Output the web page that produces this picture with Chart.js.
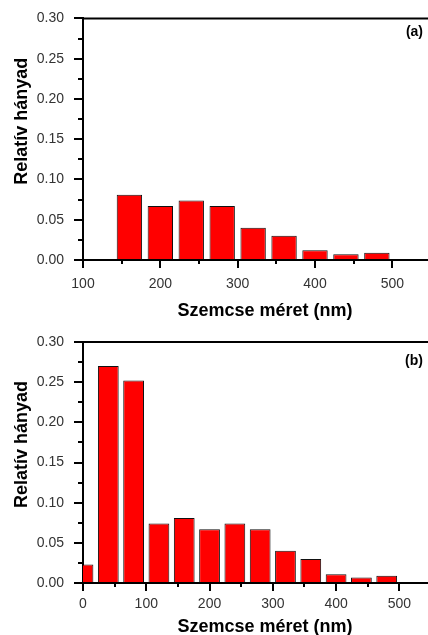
<!DOCTYPE html>
<html>
<head>
<meta charset="utf-8">
<title>Szemcseméret-eloszlás</title>
<script src="https://cdn.jsdelivr.net/npm/chart.js@4.4.0/dist/chart.umd.min.js"></script>
<style>
    html, body { margin: 0; padding: 0; background: #fff; overflow: hidden; }
    body { width: 428px; height: 635px; position: relative; }
    canvas { position: absolute; left: 0; }
    #canvas-a { top: 0; }
    #canvas-b { top: 320px; }
</style>
</head>
<body>
<canvas id="canvas-a" width="432" height="320"></canvas>
<canvas id="canvas-b" width="432" height="315"></canvas>
<script>
// bin centres (nm) and relative share for sample (a)
const sizesA = [160, 200, 240, 280, 320, 360, 400, 440, 480];
const shareA = [0.081, 0.067, 0.074, 0.067, 0.040, 0.030, 0.012, 0.007, 0.009];

// sample (b) has the extra small-grain fraction
const sizesB = [0, 40, 80, 120, 160, 200, 240, 280, 320, 360, 400, 440, 480];
const shareB = [0.023, 0.270, 0.252, 0.074, 0.081, 0.067, 0.074, 0.067, 0.040, 0.030, 0.011, 0.007, 0.009];

const yTicks = [0, 0.05, 0.10, 0.15, 0.20, 0.25, 0.30];
const xTicksA = [100, 200, 300, 400, 500];
const xTicksB = [0, 100, 200, 300, 400, 500];

const FONT = '"Liberation Sans", Arial, sans-serif';

// frame top line, minor ticks, axis titles and the (a)/(b) tag
const panelDecor = {
    id: 'panelDecor',
    afterDraw(chart, args, opts) {
        const ctx = chart.ctx;
        const a = chart.chartArea;
        const xs = chart.scales.x;
        const ys = chart.scales.y;
        ctx.save();
        ctx.strokeStyle = '#000';
        ctx.lineWidth = 2;

        ctx.beginPath();
        ctx.moveTo(a.left - 1, a.top);
        ctx.lineTo(a.right, a.top);
        ctx.stroke();

        // minor ticks halfway between the labelled ones
        ctx.beginPath();
        for (let v = 0.025; v < 0.3; v += 0.05) {
            const y = Math.round(ys.getPixelForValue(v));
            ctx.moveTo(a.left - 5, y);
            ctx.lineTo(a.left, y);
        }
        for (let v = xs.min + 50; v < xs.max; v += 100) {
            const x = Math.round(xs.getPixelForValue(v));
            ctx.moveTo(x, a.bottom);
            ctx.lineTo(x, a.bottom + 4);
        }
        ctx.stroke();

        ctx.fillStyle = '#000';
        ctx.font = 'bold 18px ' + FONT;
        ctx.textAlign = 'center';
        ctx.textBaseline = 'alphabetic';
        ctx.fillText('Szemcse méret (nm)', 265, opts.xTitleY);

        ctx.save();
        ctx.translate(27, (a.top + a.bottom) / 2 - 18);
        ctx.rotate(-Math.PI / 2);
        ctx.fillText('Relatív hányad', 0, 0);
        ctx.restore();

        ctx.font = 'bold 14px ' + FONT;
        ctx.textAlign = 'right';
        ctx.fillText(opts.tag, 423, a.top + opts.tagOffset);
        ctx.restore();
    }
};

function createHistogram(canvasId, sizes, shares, xTicks, xMin, axisHeight, tickPad, decor) {
    return new Chart(document.getElementById(canvasId).getContext('2d'), {
        type: 'bar',
        data: {
            datasets: [{
                data: sizes.map((s, i) => ({ x: s, y: shares[i] })),
                backgroundColor: '#ff0000',
                borderColor: '#111',
                borderWidth: 1,
                barPercentage: 0.82,
                categoryPercentage: 1
            }]
        },
        options: {
            responsive: false,
            animation: false,
            layout: { padding: { top: decor.padTop, right: 1, left: 0, bottom: 0 } },
            plugins: {
                legend: { display: false },
                tooltip: { enabled: false },
                panelDecor: decor
            },
            scales: {
                x: {
                    type: 'linear',
                    min: xMin,
                    max: 550,
                    offset: false,
                    afterBuildTicks: scale => { scale.ticks = xTicks.map(v => ({ value: v })); },
                    afterFit: scale => { scale.height = axisHeight; },
                    border: { display: true, color: '#000', width: 2 },
                    grid: { offset: false, drawOnChartArea: false, color: '#000', lineWidth: 2, tickLength: 8 },
                    ticks: {
                        padding: tickPad,
                        color: '#333',
                        font: { family: FONT, size: 14 },
                        maxRotation: 0,
                        autoSkip: false,
                        callback: v => String(v)
                    }
                },
                y: {
                    min: 0,
                    max: 0.3,
                    afterBuildTicks: scale => { scale.ticks = yTicks.map(v => ({ value: v })); },
                    afterFit: scale => { scale.width = 83; },
                    border: { display: true, color: '#000', width: 2 },
                    grid: { drawOnChartArea: false, color: '#000', lineWidth: 2, tickLength: 9 },
                    ticks: {
                        padding: 10,
                        color: '#333',
                        font: { family: FONT, size: 14 },
                        autoSkip: false,
                        callback: v => v.toFixed(2)
                    }
                }
            }
        },
        plugins: [panelDecor]
    });
}

document.addEventListener('DOMContentLoaded', () => {
    createHistogram('canvas-a', sizesA, shareA, xTicksA, 100, 60, 8,
        { padTop: 17, xTitleY: 316, tag: '(a)', tagOffset: 18 });
    createHistogram('canvas-b', sizesB, shareB, xTicksB, 0, 52, 5,
        { padTop: 22, xTitleY: 312, tag: '(b)', tagOffset: 23 });
});
</script>
</body>
</html>
